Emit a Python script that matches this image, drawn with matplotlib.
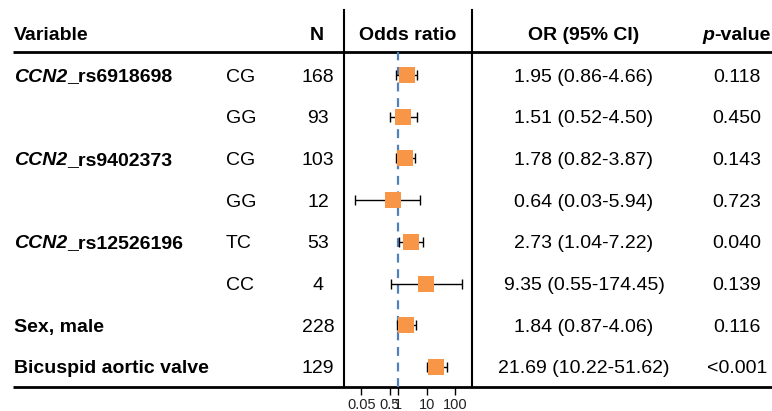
import numpy as np
import matplotlib
matplotlib.use('Agg')
import matplotlib.pyplot as plt

plt.rcParams['font.family'] = ['Liberation Sans', 'DejaVu Sans']

# table data
variables = ['CCN2_rs6918698', '', 'CCN2_rs9402373', '', 'CCN2_rs12526196', '',
             'Sex, male', 'Bicuspid aortic valve']
levels = ['CG', 'GG', 'CG', 'GG', 'TC', 'CC', '', '']
n = [168, 93, 103, 12, 53, 4, 228, 129]
odds = [1.95, 1.51, 1.78, 0.64, 2.73, 9.35, 1.84, 21.69]
lower = [0.86, 0.52, 0.82, 0.03, 1.04, 0.55, 0.87, 10.22]
upper = [4.66, 4.50, 3.87, 5.94, 7.22, 174.45, 4.06, 51.62]
pvals = ['0.118', '0.450', '0.143', '0.723', '0.040', '0.139', '0.116', '<0.001']
xticks = [0.05, 0.5, 1, 10, 100]
xticklabels = ['0.05', '0.5', '1', '10', '100']

W, H = 772, 411
fig = plt.figure(figsize=(W / 100, H / 100), dpi=100)

# whole-figure axes in pixel units for the table part
ax = fig.add_axes([0, 0, 1, 1])
ax.set_xlim(0, W)
ax.set_ylim(H, 0)
ax.axis('off')

top_line, bot_line = 52, 387
rows = 75 + np.arange(len(n)) * 41.7
fs = 14

# header
ax.text(14, 33, 'Variable', fontsize=fs, fontweight='bold', va='center_baseline')
ax.text(317, 33, 'N', fontsize=fs, fontweight='bold', va='center_baseline', ha='center')
ax.text(408, 33, 'Odds ratio', fontsize=fs, fontweight='bold', va='center_baseline', ha='center')
ax.text(584, 33, 'OR (95% CI)', fontsize=fs, fontweight='bold', va='center_baseline', ha='center')
tp = ax.text(702, 33, 'p', fontsize=fs, fontweight='bold', fontstyle='italic', va='center_baseline')
ax.annotate('-value', xy=(1, 0), xycoords=tp, va='bottom', fontsize=fs, fontweight='bold')

# lines
ax.plot([13, W], [top_line, top_line], color='black', lw=2, solid_capstyle='butt')
ax.plot([13, W], [bot_line, bot_line], color='black', lw=2, solid_capstyle='butt')
for xv in [344, 472]:
    ax.plot([xv, xv], [10, bot_line], color='black', lw=1.5)

# rows
for i, y in enumerate(rows):
    name = variables[i]
    if name.startswith('CCN2_'):
        t = ax.text(14, y, 'CCN2', fontsize=fs, fontweight='bold', fontstyle='italic',
                    va='center_baseline')
        ax.annotate(name[4:], xy=(1, 0), xycoords=t, va='bottom', fontsize=fs, fontweight='bold')
    elif name:
        ax.text(14, y, name, fontsize=fs, fontweight='bold', va='center_baseline')
    ax.text(226, y, levels[i], fontsize=fs, va='center_baseline')
    ax.text(318, y, str(n[i]), fontsize=fs, va='center_baseline', ha='center')
    ax.text(584, y, f'{odds[i]:.2f} ({lower[i]:.2f}-{upper[i]:.2f})', fontsize=fs,
            va='center_baseline', ha='center')
    ax.text(737, y, pvals[i], fontsize=fs, va='center_baseline', ha='center')

# forest panel
x0, x1 = 344, 472
fax = fig.add_axes([x0 / W, (H - bot_line) / H, (x1 - x0) / W, (bot_line - top_line) / H])
fax.patch.set_alpha(0)
fax.set_xscale('log')
px_per_dec = 28.3
fax.set_xlim(10 ** ((x0 - 398.3) / px_per_dec), 10 ** ((x1 - 398.3) / px_per_dec))
fax.set_ylim(bot_line, top_line)
for s in fax.spines.values():
    s.set_visible(False)
fax.set_yticks([])
fax.axvline(1, color='#4F81BD', lw=1.6, ls=(0, (4, 3)))
err = [np.array(odds) - np.array(lower), np.array(upper) - np.array(odds)]
fax.errorbar(odds, rows, xerr=err, fmt='none', ecolor='black', elinewidth=1,
             capsize=3.5, capthick=1, zorder=2)
fax.plot(odds, rows, 's', color='#F79646', markersize=12, markeredgewidth=0, zorder=3)
fax.set_xticks(xticks)
fax.set_xticklabels(xticklabels)
fax.minorticks_off()
fax.tick_params(axis='x', length=6, width=1, labelsize=10.5, pad=2, colors='black',
                labelcolor='#222222')

fig.savefig('out.png', dpi=100)
